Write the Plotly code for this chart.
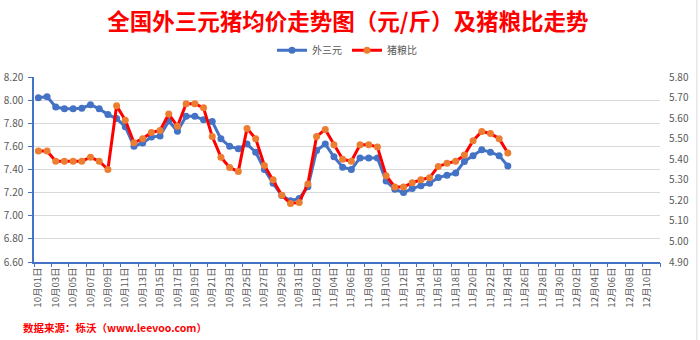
import datetime as dt
import plotly.graph_objects as go

# Daily categories, 10月01日 through 12月11日
start = dt.date(2023, 10, 1)
dates = [(start + dt.timedelta(days=k)) for k in range(72)]
categories = [f"{d.month}月{d.day:02d}日" for d in dates]

# 外三元 average price (元/斤), 10月01日 – 11月24日
price_wsy = [
    8.02, 8.03, 7.94, 7.925, 7.925, 7.93, 7.96, 7.925, 7.875, 7.84,
    7.77, 7.60, 7.63, 7.68, 7.69, 7.82, 7.73, 7.86, 7.86, 7.83,
    7.815, 7.665, 7.60, 7.58, 7.62, 7.55, 7.40, 7.28, 7.175, 7.13,
    7.15, 7.25, 7.565, 7.62, 7.51, 7.42, 7.40, 7.50, 7.50, 7.50,
    7.30, 7.23, 7.20, 7.235, 7.26, 7.28, 7.33, 7.35, 7.37, 7.47,
    7.52, 7.57, 7.55, 7.52, 7.43,
]
# 猪粮比, same days
hog_grain = [
    5.44, 5.44, 5.39, 5.39, 5.39, 5.39, 5.41, 5.39, 5.35, 5.66,
    5.59, 5.48, 5.50, 5.53, 5.54, 5.62, 5.56, 5.67, 5.67, 5.65,
    5.51, 5.41, 5.36, 5.34, 5.55, 5.50, 5.37, 5.30, 5.225, 5.185,
    5.19, 5.28, 5.51, 5.545, 5.47, 5.40, 5.39, 5.47, 5.47, 5.46,
    5.32, 5.265, 5.265, 5.285, 5.30, 5.31, 5.365, 5.38, 5.39, 5.42,
    5.49, 5.535, 5.525, 5.50, 5.43,
]

left_ticks = [6.60, 6.80, 7.00, 7.20, 7.40, 7.60, 7.80, 8.00, 8.20]
right_ticks = [4.90, 5.00, 5.10, 5.20, 5.30, 5.40, 5.50, 5.60, 5.70, 5.80]

title = "全国外三元猪均价走势图（元/斤）及猪粮比走势"
source = "数据来源：栎沃（www.leevoo.com）"

CJK = "Noto Sans CJK SC, sans-serif"
BLUE = "#4472C4"
GREY = "#595959"

fig = go.Figure()
fig.add_trace(go.Scatter(
    x=categories[:len(price_wsy)], y=price_wsy, name="外三元",
    mode="lines+markers",
    line=dict(color=BLUE, width=3),
    marker=dict(color=BLUE, size=7),
))
fig.add_trace(go.Scatter(
    x=categories[:len(hog_grain)], y=hog_grain, name="猪粮比",
    mode="lines+markers", yaxis="y2",
    line=dict(color="#FF0000", width=3),
    marker=dict(color="#ED7D31", size=7),
))

fig.update_layout(
    width=700, height=340,
    margin=dict(l=34, r=40, t=77, b=78, autoexpand=False),
    paper_bgcolor="white", plot_bgcolor="white",
    font=dict(family=CJK, size=10, color=GREY),
    title=dict(text=f"<b>{title}</b>", x=0.497, xanchor="center",
               y=0.935, yanchor="middle",
               font=dict(family=CJK, size=22.5, color="#FF0000")),
    showlegend=True,
    legend=dict(orientation="h", x=0.5, xanchor="center", y=1.145,
                yanchor="middle", font=dict(size=10, color=GREY),
                itemwidth=30, bgcolor="rgba(0,0,0,0)"),
    xaxis=dict(
        type="category", categoryorder="array", categoryarray=categories,
        range=[-0.5, len(categories) - 0.5], automargin=False,
        tickmode="array", tickvals=categories[::2],
        tickangle=-90, tickfont=dict(size=9.5, color=GREY),
        showline=True, linecolor=BLUE, linewidth=1.5,
        ticks="", showgrid=False, zeroline=False,
    ),
    xaxis2=dict(
        overlaying="x", anchor="y", side="bottom", automargin=False,
        range=[-0.5, len(categories) - 0.5],
        tickmode="array",
        tickvals=[k - 0.5 for k in range(0, len(categories) + 1, 2)],
        ticks="outside", ticklen=4, tickcolor=BLUE, tickwidth=1,
        showticklabels=False, showgrid=False, zeroline=False, showline=False,
    ),
    yaxis=dict(
        range=[6.60, 8.20], tickmode="array", tickvals=left_ticks,
        automargin=False,
        tickformat=".2f", tickfont=dict(size=10, color=GREY),
        showgrid=True, gridcolor="#D9D9D9", gridwidth=1,
        showline=True, linecolor=BLUE, linewidth=1.5,
        ticks="outside", ticklen=4, tickcolor=BLUE, zeroline=False,
        ticklabelstandoff=3,
    ),
    yaxis2=dict(
        overlaying="y", side="right", automargin=False,
        range=[4.90, 5.80], tickmode="array", tickvals=right_ticks,
        tickformat=".2f", tickfont=dict(size=10, color=GREY),
        showgrid=False, showline=False, zeroline=False, ticks="",
        ticklabelstandoff=8,
    ),
    annotations=[dict(
        text=f"<b>{source}</b>", xref="paper", yref="paper",
        x=-0.02, y=-0.355, xanchor="left", yanchor="middle",
        showarrow=False, font=dict(family=CJK, size=10.5, color="#FF0000"),
    )],
    shapes=[dict(
        type="line", xref="paper", yref="paper",
        x0=1.059, x1=1.059, y0=-1, y1=2,
        line=dict(color="#D9D9D9", width=1),
    )],
)

# register the tick-mark axis so it is drawn
fig.add_trace(go.Scatter(x=[None], y=[None], xaxis="x2", showlegend=False,
                         hoverinfo="skip"))

fig.write_html("out.html")
